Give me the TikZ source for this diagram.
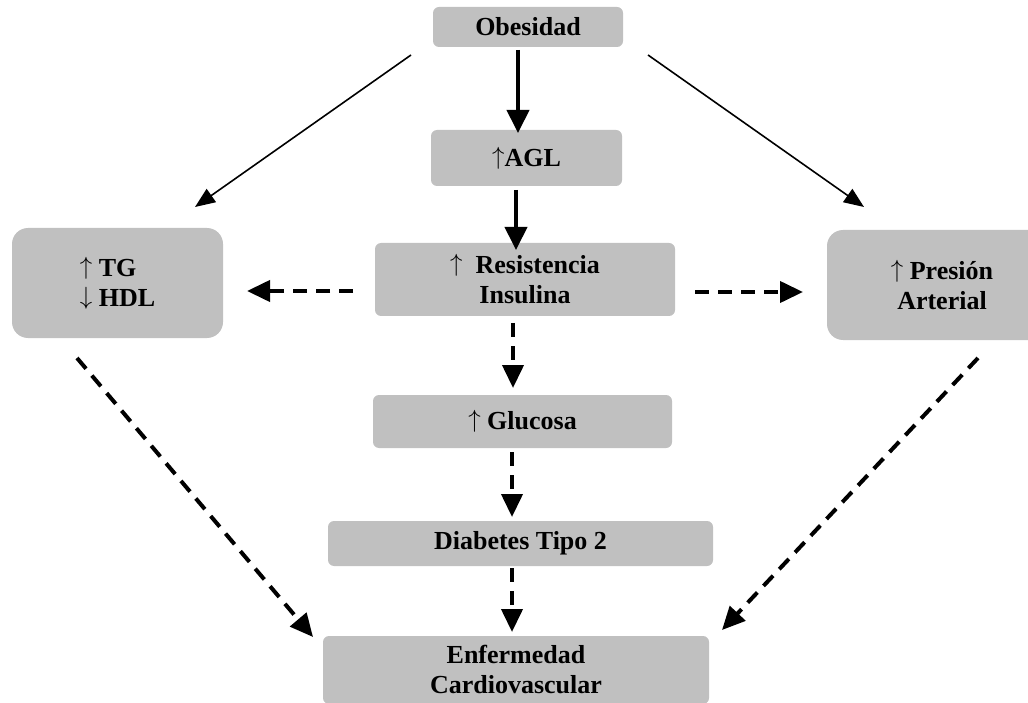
\documentclass[tikz,border=0pt]{standalone}
\usepackage{fontspec}
\setmainfont{Liberation Serif}
\usetikzlibrary{arrows.meta}
\definecolor{boxgray}{RGB}{192,192,192}
\newcommand{\upar}{\raisebox{2pt}{$\uparrow$}}
\newcommand{\dnar}{\raisebox{2pt}{$\downarrow$}}
\begin{document}
\begin{tikzpicture}[x=1pt,y=-1pt,
  box/.style={fill=boxgray,draw=none,rounded corners=6pt,inner sep=0pt,align=center,font=\fontsize{26}{30}\selectfont\bfseries},
  bigbox/.style={box,rounded corners=16pt},
  solidarr/.style={line width=4pt,-{Triangle[length=23pt,width=22pt]}},
  thinarr/.style={line width=1.6pt,-{Triangle[length=20pt,width=16pt]}},
  dasharr/.style={line width=4pt,dash pattern=on 14pt off 9pt,-{Triangle[length=23pt,width=21pt]}},
]
\useasboundingbox (0,0) rectangle (1028,703);
\clip (0,0) rectangle (1028,703);
% nodes
\node[box,minimum width=190pt,minimum height=40pt] (obes) at (528,27) {Obesidad};
\node[box,minimum width=191pt,minimum height=56pt] (agl) at (526.5,158) {\upar AGL};
\node[box,minimum width=300pt,minimum height=73pt] (res) at (525,279.5) {\upar\ \ Resistencia\\Insulina};
\node[bigbox,minimum width=211pt,minimum height=110pt,align=left] (tg) at (117.5,283) {\upar\ TG\\\dnar\ HDL};
\node[bigbox,minimum width=230pt,minimum height=110pt] (pres) at (942,285) {\upar\ Presión\\Arterial};
\node[box,minimum width=299pt,minimum height=53pt] (glu) at (522.5,421.5) {\upar\ Glucosa};
\node[box,minimum width=385pt,minimum height=45pt] (dia) at (520.5,543.5) {Diabetes Tipo 2};
\node[box,minimum width=386pt,minimum height=68pt] (enf) at (516,670) {Enfermedad\\Cardiovascular};
% connector end points
\coordinate (o1) at (518,50);   \coordinate (a1) at (518,133);
\coordinate (a2) at (516,190);  \coordinate (r1) at (516,250);
\coordinate (o2) at (411,55);   \coordinate (t1) at (195,207);
\coordinate (o3) at (648,55);   \coordinate (p1) at (864,207);
\coordinate (r2) at (353,291);  \coordinate (t2) at (247,291);
\coordinate (r3) at (695,292);  \coordinate (p2) at (803,292);
\coordinate (r4) at (513,323);  \coordinate (g1) at (513,388);
\coordinate (g2) at (512,452);  \coordinate (d1) at (512,517);
\coordinate (d2) at (512,568);  \coordinate (e1) at (512,632);
\coordinate (t3) at (77,358);   \coordinate (e2) at (313,637);
\coordinate (p3) at (978,358);  \coordinate (e3) at (722,630);
% connectors
\draw[solidarr] (o1) -- (a1);
\draw[solidarr] (a2) -- (r1);
\draw[thinarr] (o2) -- (t1);
\draw[thinarr] (o3) -- (p1);
\draw[dasharr] (r2) -- (t2);
\draw[dasharr] (r3) -- (p2);
\draw[dasharr] (r4) -- (g1);
\draw[dasharr] (g2) -- (d1);
\draw[dasharr] (d2) -- (e1);
\draw[dasharr] (t3) -- (e2);
\draw[dasharr] (p3) -- (e3);
\end{tikzpicture}
\end{document}
